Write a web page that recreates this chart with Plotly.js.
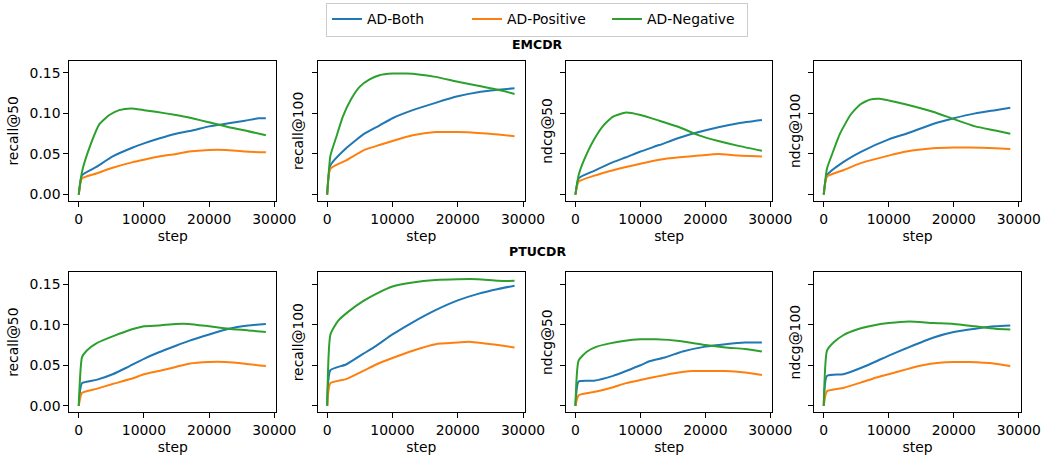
<!DOCTYPE html>
<html>
<head>
<meta charset="utf-8">
<script src="https://cdn.plot.ly/plotly-3.0.1.min.js"></script>
<style>html,body{margin:0;padding:0;background:#fff;}#chart{width:1045px;height:455px;}</style>
</head>
<body>
<div id="chart"></div>
<script>
// ---- Data ----
const seriesNames = ["AD-Both", "AD-Positive", "AD-Negative"];
const seriesColors = ["#1f77b4", "#ff7f0e", "#2ca02c"];
const rowTitles = ["EMCDR", "PTUCDR"];
const metricLabels = ["recall@50", "recall@100", "ndcg@50", "ndcg@100"];
const xTicks = [0, 10000, 20000, 30000];
const yTicks = [0, 0.05, 0.10, 0.15];

// EMCDR recall@50
const em_r50_both_x = [0,500,2700,5200,8300,10000,12300,14900,17400,20000,23000,25500,27600,28700];
const em_r50_both_y = [0,0.024,0.034,0.047,0.058,0.063,0.069,0.075,0.079,0.084,0.088,0.091,0.094,0.094];
const em_r50_pos_x = [0,500,2700,5200,8300,10000,12300,14900,16900,20000,22500,25500,28700];
const em_r50_pos_y = [0,0.020,0.026,0.033,0.040,0.043,0.047,0.050,0.053,0.055,0.055,0.053,0.052];
const em_r50_neg_x = [0,500,1700,3200,4700,6200,8000,10000,11800,14900,16900,20000,23000,25500,28700];
const em_r50_neg_y = [0,0.028,0.059,0.087,0.098,0.104,0.106,0.104,0.102,0.098,0.095,0.089,0.083,0.079,0.073];

// EMCDR recall@100
const em_r100_both_x = [0,500,2900,5700,8000,10000,13100,16600,20000,23100,26200,28700];
const em_r100_both_y = [0,0.036,0.057,0.075,0.085,0.094,0.104,0.113,0.121,0.126,0.129,0.131];
const em_r100_pos_x = [0,500,2900,5700,8000,10000,13100,16600,20000,23100,26200,28700];
const em_r100_pos_y = [0,0.032,0.042,0.055,0.061,0.066,0.073,0.077,0.077,0.076,0.074,0.072];
const em_r100_neg_x = [0,500,1400,2400,3700,5000,6500,8000,10000,12100,14000,16600,20000,23100,26200,28700];
const em_r100_neg_y = [0,0.048,0.071,0.096,0.118,0.133,0.142,0.147,0.149,0.149,0.148,0.145,0.139,0.134,0.129,0.124];

// EMCDR ndcg@50
const em_n50_both_x = [0,500,2800,5800,7800,10000,12900,16000,19000,22000,25100,28700];
const em_n50_both_y = [0,0.020,0.029,0.040,0.046,0.053,0.061,0.070,0.077,0.083,0.088,0.092];
const em_n50_pos_x = [0,500,2800,5800,10000,12900,16000,19000,22000,25100,28700];
const em_n50_pos_y = [0,0.016,0.023,0.030,0.038,0.043,0.046,0.048,0.050,0.048,0.047];
const em_n50_neg_x = [0,500,1300,2800,4300,5800,7800,10000,12900,16000,19000,22000,25100,28700];
const em_n50_neg_y = [0,0.024,0.042,0.067,0.085,0.096,0.101,0.098,0.091,0.083,0.073,0.066,0.060,0.054];

// EMCDR ndcg@100
const em_n100_both_x = [0,500,3000,5800,10000,12700,16800,20000,23300,26400,28700];
const em_n100_both_y = [0,0.024,0.040,0.053,0.068,0.075,0.087,0.094,0.100,0.104,0.107];
const em_n100_pos_x = [0,500,3000,5800,10000,12700,16800,20000,22300,26400,28700];
const em_n100_pos_y = [0,0.022,0.030,0.039,0.048,0.053,0.057,0.058,0.058,0.057,0.056];
const em_n100_neg_x = [0,500,1300,2500,4100,5600,7100,8600,10000,12700,16800,20000,23300,26400,28700];
const em_n100_neg_y = [0,0.032,0.050,0.075,0.098,0.111,0.117,0.118,0.116,0.111,0.102,0.093,0.084,0.079,0.075];

// PTUCDR recall@50
const pt_r50_both_x = [0,500,2700,5200,7300,10000,12300,14900,16900,20000,23000,26000,28700];
const pt_r50_both_y = [0,0.028,0.032,0.039,0.047,0.058,0.066,0.074,0.080,0.088,0.095,0.099,0.101];
const pt_r50_pos_x = [0,500,2700,5200,8300,10000,12300,14900,16900,20000,22500,25500,28700];
const pt_r50_pos_y = [0,0.016,0.021,0.027,0.034,0.039,0.043,0.048,0.052,0.054,0.054,0.052,0.049];
const pt_r50_neg_x = [0,500,1200,2700,4700,7300,10000,12300,14900,16900,20000,23000,26000,28700];
const pt_r50_neg_y = [0,0.060,0.068,0.077,0.084,0.092,0.098,0.099,0.101,0.101,0.098,0.095,0.093,0.091];

// PTUCDR recall@100
const pt_r100_both_x = [0,500,2900,5500,7500,10000,13100,16600,20000,23100,26200,28700];
const pt_r100_both_y = [0,0.044,0.051,0.064,0.074,0.088,0.103,0.118,0.130,0.138,0.144,0.148];
const pt_r100_pos_x = [0,500,2900,5500,7500,10000,13100,16600,20000,21700,25200,28700];
const pt_r100_pos_y = [0,0.028,0.033,0.043,0.051,0.059,0.068,0.076,0.078,0.079,0.076,0.072];
const pt_r100_neg_x = [0,500,1700,3400,5500,7500,10000,13100,16600,20000,23100,26200,28700];
const pt_r100_neg_y = [0,0.088,0.105,0.117,0.129,0.138,0.147,0.152,0.155,0.156,0.156,0.154,0.154];

// PTUCDR ndcg@50
const pt_n50_both_x = [0,500,2800,5800,7800,10000,11400,13900,16500,20000,23100,26100,28700];
const pt_n50_both_y = [0,0.030,0.031,0.037,0.043,0.050,0.055,0.060,0.067,0.073,0.076,0.078,0.078];
const pt_n50_pos_x = [0,500,2800,5800,7800,10000,12400,15000,18000,20000,23100,26100,28700];
const pt_n50_pos_y = [0,0.013,0.017,0.023,0.028,0.032,0.036,0.040,0.043,0.043,0.043,0.041,0.038];
const pt_n50_neg_x = [0,500,1800,3300,5300,7400,10000,12400,16000,20000,23100,26100,28700];
const pt_n50_neg_y = [0,0.056,0.067,0.073,0.077,0.080,0.082,0.082,0.080,0.075,0.072,0.070,0.067];

// PTUCDR ndcg@100
const pt_n100_both_x = [0,500,3000,5800,8100,10000,12700,16800,20000,23300,26400,28700];
const pt_n100_both_y = [0,0.037,0.039,0.047,0.055,0.062,0.071,0.084,0.091,0.095,0.098,0.099];
const pt_n100_pos_x = [0,500,3000,5800,8100,10000,12700,15200,17800,20000,22300,26400,28700];
const pt_n100_pos_y = [0,0.018,0.022,0.029,0.035,0.039,0.045,0.050,0.053,0.054,0.054,0.052,0.049];
const pt_n100_neg_x = [0,500,1500,3000,5100,7600,10000,13200,16800,20000,23300,26400,28700];
const pt_n100_neg_y = [0,0.068,0.078,0.087,0.094,0.099,0.102,0.104,0.102,0.101,0.098,0.095,0.094];

const panels = [
  [[em_r50_both_x, em_r50_both_y], [em_r50_pos_x, em_r50_pos_y], [em_r50_neg_x, em_r50_neg_y]],
  [[em_r100_both_x, em_r100_both_y], [em_r100_pos_x, em_r100_pos_y], [em_r100_neg_x, em_r100_neg_y]],
  [[em_n50_both_x, em_n50_both_y], [em_n50_pos_x, em_n50_pos_y], [em_n50_neg_x, em_n50_neg_y]],
  [[em_n100_both_x, em_n100_both_y], [em_n100_pos_x, em_n100_pos_y], [em_n100_neg_x, em_n100_neg_y]],
  [[pt_r50_both_x, pt_r50_both_y], [pt_r50_pos_x, pt_r50_pos_y], [pt_r50_neg_x, pt_r50_neg_y]],
  [[pt_r100_both_x, pt_r100_both_y], [pt_r100_pos_x, pt_r100_pos_y], [pt_r100_neg_x, pt_r100_neg_y]],
  [[pt_n50_both_x, pt_n50_both_y], [pt_n50_pos_x, pt_n50_pos_y], [pt_n50_neg_x, pt_n50_neg_y]],
  [[pt_n100_both_x, pt_n100_both_y], [pt_n100_pos_x, pt_n100_pos_y], [pt_n100_neg_x, pt_n100_neg_y]]
];

// ---- Layout ----
const W = 1045, H = 455;
const colsPx = [[69.3, 276.3], [317.7, 525], [566, 772.3], [814.3, 1020.7]];
const rowsPx = [[60.7, 201], [272, 412.3]];
const FONT = "DejaVu Sans, sans-serif";
const FS = 13.9;

const traces = [];
const layout = {
  width: W, height: H,
  margin: {l: 0, r: 0, t: 0, b: 0},
  paper_bgcolor: "#fff", plot_bgcolor: "#fff",
  font: {family: FONT, size: FS, color: "#000"},
  showlegend: true,
  legend: {
    orientation: "h", x: 537 / W, xanchor: "center", y: 0.9945, yanchor: "top",
    entrywidth: 95, entrywidthmode: "pixels",
    bordercolor: "#cccccc", borderwidth: 1, bgcolor: "#fff",
    font: {family: FONT, size: FS, color: "#000"}
  },
  annotations: []
};

panels.forEach((panel, k) => {
  const r = Math.floor(k / 4), c = k % 4;
  const xa = "x" + (k + 1), ya = "y" + (k + 1);
  panel.forEach((s, i) => {
    traces.push({
      type: "scatter", mode: "lines",
      x: s[0], y: s[1],
      xaxis: xa, yaxis: ya,
      name: seriesNames[i],
      showlegend: k === 0,
      line: {color: seriesColors[i], width: 2, shape: "spline", smoothing: 0.5}
    });
  });
  const xKey = "xaxis" + (k + 1), yKey = "yaxis" + (k + 1);
  layout[xKey] = {
    domain: [colsPx[c][0] / W, colsPx[c][1] / W],
    anchor: ya,
    range: [-1450, 30300],
    tickvals: xTicks, ticktext: xTicks.map(String),
    ticks: "outside", ticklen: 5, tickwidth: 1, tickcolor: "#000",
    showline: true, mirror: true, linecolor: "#000", linewidth: 1,
    showgrid: false, zeroline: false,
    tickfont: {family: FONT, size: FS, color: "#000"},
    title: {text: "step", font: {family: FONT, size: FS, color: "#000"}, standoff: 5}
  };
  layout[yKey] = {
    domain: [1 - rowsPx[r][1] / H, 1 - rowsPx[r][0] / H],
    anchor: xa,
    range: [-0.0079, 0.1649],
    tickvals: yTicks, ticktext: yTicks.map(v => v.toFixed(2)),
    showticklabels: c === 0,
    ticks: "outside", ticklen: 5, tickwidth: 1, tickcolor: "#000",
    showline: true, mirror: true, linecolor: "#000", linewidth: 1,
    showgrid: false, zeroline: false,
    tickfont: {family: FONT, size: FS, color: "#000"},
    title: {text: metricLabels[c], font: {family: FONT, size: FS, color: "#000"}, standoff: c === 0 ? 7 : 4}
  };
});

rowTitles.forEach((t, r) => {
  layout.annotations.push({
    text: "<b>" + t + "</b>", xref: "paper", yref: "paper",
    x: 537 / W, y: 1 - (r === 0 ? 45 : 251) / H,
    xanchor: "center", yanchor: "middle", showarrow: false,
    font: {family: FONT, size: 12.5, color: "#000"}
  });
});

Plotly.newPlot("chart", traces, layout, {displayModeBar: false, staticPlot: true});
</script>
</body>
</html>
